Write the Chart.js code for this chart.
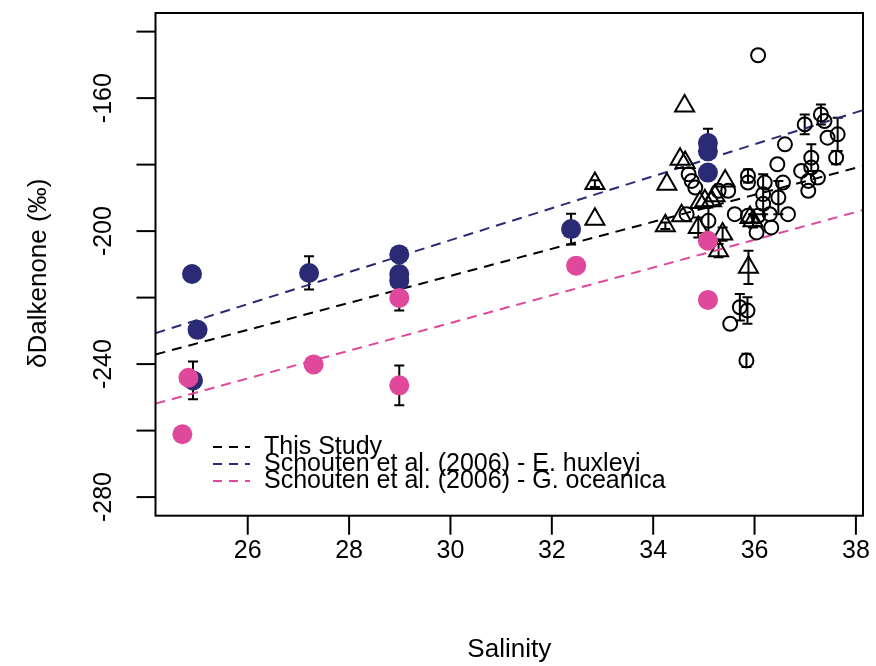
<!DOCTYPE html>
<html>
<head>
<meta charset="utf-8">
<script src="https://cdn.jsdelivr.net/npm/chart.js@4"></script>
<style>
  body { margin: 0; background: #fff; }
  #wrap { width: 876px; height: 666px; }
</style>
</head>
<body>
<div id="wrap"><canvas id="dChart" width="876" height="666"></canvas></div>
<script>
// open circles
const circleX = [36.07, 36.60, 36.45, 36.99, 37.31, 37.38, 37.44, 37.64, 37.61, 37.12, 37.12, 36.92, 37.25, 37.06, 37.06,
  35.87, 35.87, 36.20, 36.56, 36.17, 36.47, 36.66, 36.30, 36.33, 36.04, 35.61, 35.87, 34.70, 34.83, 35.29,
  35.48, 34.66, 35.09, 35.71, 35.86, 35.52, 35.84, 34.76, 36.07, 36.17];
const circleY = [-147.1, -173.9, -179.9, -167.9, -164.9, -166.9, -171.9, -170.9, -177.9, -177.9, -180.9, -181.9, -183.9, -184.9, -187.9,
  -183.4, -185.4, -185.4, -185.4, -188.9, -189.9, -194.9, -194.9, -198.9, -200.4, -194.9, -195.4, -182.9, -186.9, -187.9,
  -187.9, -194.9, -196.9, -222.9, -223.9, -227.9, -238.9, -184.9, -195.4, -191.8];
const circleErr = [0, 0, 0, 3, 3, 0, 0, 5, 2, 4, 0, 0, 0, 0, 0,
  2, 0, 0, 0, 6, 5, 0, 0, 0, 0, 0, 0, 0, 0, 0,
  0, 0, 4, 4, 4, 0, 2, 0, 0, 0];

// open triangles
const triX = [32.85, 32.85, 34.62, 34.53, 34.63, 34.27, 35.42, 35.02, 35.22, 34.92, 34.56, 34.24, 34.89, 35.37, 35.29, 35.91, 35.97, 35.88, 35.15];
const triY = [-185.7, -196.4, -162.4, -178.4, -179.4, -185.9, -184.9, -190.9, -189.4, -191.4, -195.4, -198.4, -198.9, -200.9, -205.9, -195.9, -196.9, -210.9, -190.9];
const triErr = [1, 0, 0, 0, 0, 0, 0, 0, 0, 0, 0, 1, 3, 2, 2, 0, 2, 5, 0];

// filled navy (E. huxleyi)
const huxX = [24.90, 25.01, 24.92, 27.21, 28.99, 28.99, 28.99, 32.38, 35.08, 35.08, 35.08];
const huxY = [-212.9, -229.7, -244.9, -212.6, -207.0, -212.9, -214.9, -199.4, -173.5, -176.0, -182.4];
const huxErr = [0, 0, 5.7, 5, 0, 0, 0, 4.6, 4.3, 0, 0];

// filled pink (G. oceanica)
const oceX = [24.83, 24.71, 27.30, 28.99, 28.99, 32.48, 35.08, 35.08];
const oceY = [-244.1, -261.1, -240.1, -220.1, -246.4, -210.4, -202.9, -220.7];
const oceErr = [0, 0, 0, 3.8, 6, 0, 0, 0];

// dashed fit lines, read at the two box edges
const lineX = [24.18, 38.14];
const thisStudyY = [-237.1, -180.4];
const huxleyiY = [-230.7, -163.6];
const oceanicaY = [-251.9, -193.7];

const xTicks = [26, 28, 30, 32, 34, 36, 38];
const yTicks = [-280, -260, -240, -220, -200, -180, -160, -140];
const yTickLabels = [-280, -240, -200, -160];

const legendLabels = ['This Study', 'Schouten et al. (2006) - E. huxleyi', 'Schouten et al. (2006) - G. oceanica'];

const NAVY = '#2a2b74';
const PINK = '#e0489b';
const FONT = '"Liberation Sans", Arial, sans-serif';

function pts(xs, ys) {
  return xs.map(function (x, i) { return { x: x, y: ys[i] }; });
}

const errorBars = {
  id: 'errorBars',
  beforeDatasetsDraw: function (chart) {
    const ctx = chart.ctx;
    const y = chart.scales.y;
    ctx.save();
    ctx.strokeStyle = '#000';
    ctx.lineWidth = 2;
    chart.data.datasets.forEach(function (ds, di) {
      if (!ds.errors) return;
      const meta = chart.getDatasetMeta(di);
      meta.data.forEach(function (el, i) {
        const e = ds.errors[i];
        if (!e) return;
        const top = y.getPixelForValue(ds.data[i].y + e);
        const bot = y.getPixelForValue(ds.data[i].y - e);
        ctx.beginPath();
        ctx.moveTo(el.x, top); ctx.lineTo(el.x, bot);
        ctx.moveTo(el.x - 5, top); ctx.lineTo(el.x + 5, top);
        ctx.moveTo(el.x - 5, bot); ctx.lineTo(el.x + 5, bot);
        ctx.stroke();
      });
    });
    ctx.restore();
  }
};

const rAxes = {
  id: 'rAxes',
  afterDraw: function (chart) {
    const ctx = chart.ctx;
    const a = chart.chartArea;
    const xs = chart.scales.x, ys = chart.scales.y;
    ctx.save();
    ctx.strokeStyle = '#000';
    ctx.fillStyle = '#000';
    ctx.lineWidth = 2;
    ctx.strokeRect(a.left, a.top, a.right - a.left, a.bottom - a.top);

    // x axis
    ctx.font = '25px ' + FONT;
    ctx.textAlign = 'center';
    ctx.textBaseline = 'middle';
    xTicks.forEach(function (t) {
      const px = xs.getPixelForValue(t);
      ctx.beginPath();
      ctx.moveTo(px, a.bottom); ctx.lineTo(px, a.bottom + 19);
      ctx.stroke();
      ctx.fillText(String(t), px, a.bottom + 35);
    });

    // y axis
    yTicks.forEach(function (t) {
      const py = ys.getPixelForValue(t);
      ctx.beginPath();
      ctx.moveTo(a.left, py); ctx.lineTo(a.left - 19, py);
      ctx.stroke();
    });
    yTickLabels.forEach(function (t) {
      const py = ys.getPixelForValue(t);
      ctx.save();
      ctx.translate(a.left - 51, py);
      ctx.rotate(-Math.PI / 2);
      ctx.fillText(String(t), 0, 0);
      ctx.restore();
    });

    // titles
    ctx.font = '26px ' + FONT;
    ctx.fillText('Salinity', (a.left + a.right) / 2, 650);
    ctx.save();
    ctx.translate(39, (a.top + a.bottom) / 2 + 9);
    ctx.rotate(-Math.PI / 2);
    ctx.fillText('δDalkenone (‰)', 0, 0);
    ctx.restore();

    // legend
    const colors = ['#000', NAVY, PINK];
    ctx.font = '25px ' + FONT;
    ctx.textAlign = 'left';
    legendLabels.forEach(function (lab, i) {
      const ly = 447 + i * 17;
      ctx.strokeStyle = colors[i];
      ctx.lineWidth = 2;
      ctx.setLineDash([9, 7]);
      ctx.beginPath();
      ctx.moveTo(213, ly); ctx.lineTo(250, ly);
      ctx.stroke();
      ctx.setLineDash([]);
      ctx.fillStyle = '#000';
      ctx.fillText(lab, 264, ly);
    });
    ctx.restore();
  }
};

function fitLine(ys, color) {
  return {
    type: 'line',
    data: pts(lineX, ys),
    borderColor: color,
    borderWidth: 2,
    borderDash: [10, 7],
    pointRadius: 0,
    fill: false,
    order: 4
  };
}

const config = {
  type: 'scatter',
  data: {
    datasets: [
      {
        data: pts(oceX, oceY), errors: oceErr,
        pointRadius: 10, pointStyle: 'circle', borderWidth: 0,
        backgroundColor: PINK, borderColor: PINK, order: 0
      },
      {
        data: pts(huxX, huxY), errors: huxErr,
        pointRadius: 10, pointStyle: 'circle', borderWidth: 0,
        backgroundColor: NAVY, borderColor: NAVY, order: 1
      },
      {
        data: pts(triX, triY), errors: triErr,
        pointRadius: 11, pointStyle: 'triangle', borderWidth: 2,
        backgroundColor: 'rgba(0,0,0,0)', borderColor: '#000', order: 2
      },
      {
        data: pts(circleX, circleY), errors: circleErr,
        pointRadius: 7, pointStyle: 'circle', borderWidth: 2,
        backgroundColor: 'rgba(0,0,0,0)', borderColor: '#000', order: 3
      },
      fitLine(thisStudyY, '#000'),
      fitLine(huxleyiY, NAVY),
      fitLine(oceanicaY, PINK)
    ]
  },
  options: {
    responsive: false,
    animation: false,
    events: [],
    layout: { padding: { left: 155.5, right: 9, top: 11.6, bottom: 150.3 } },
    plugins: { legend: { display: false }, tooltip: { enabled: false } },
    scales: {
      x: { type: 'linear', display: false, min: 24.18, max: 38.14 },
      y: { type: 'linear', display: false, min: -285.6, max: -134.4 }
    }
  },
  plugins: [errorBars, rAxes]
};

const ctx = document.getElementById('dChart').getContext('2d');
const dChart = new Chart(ctx, config);
</script>
</body>
</html>
